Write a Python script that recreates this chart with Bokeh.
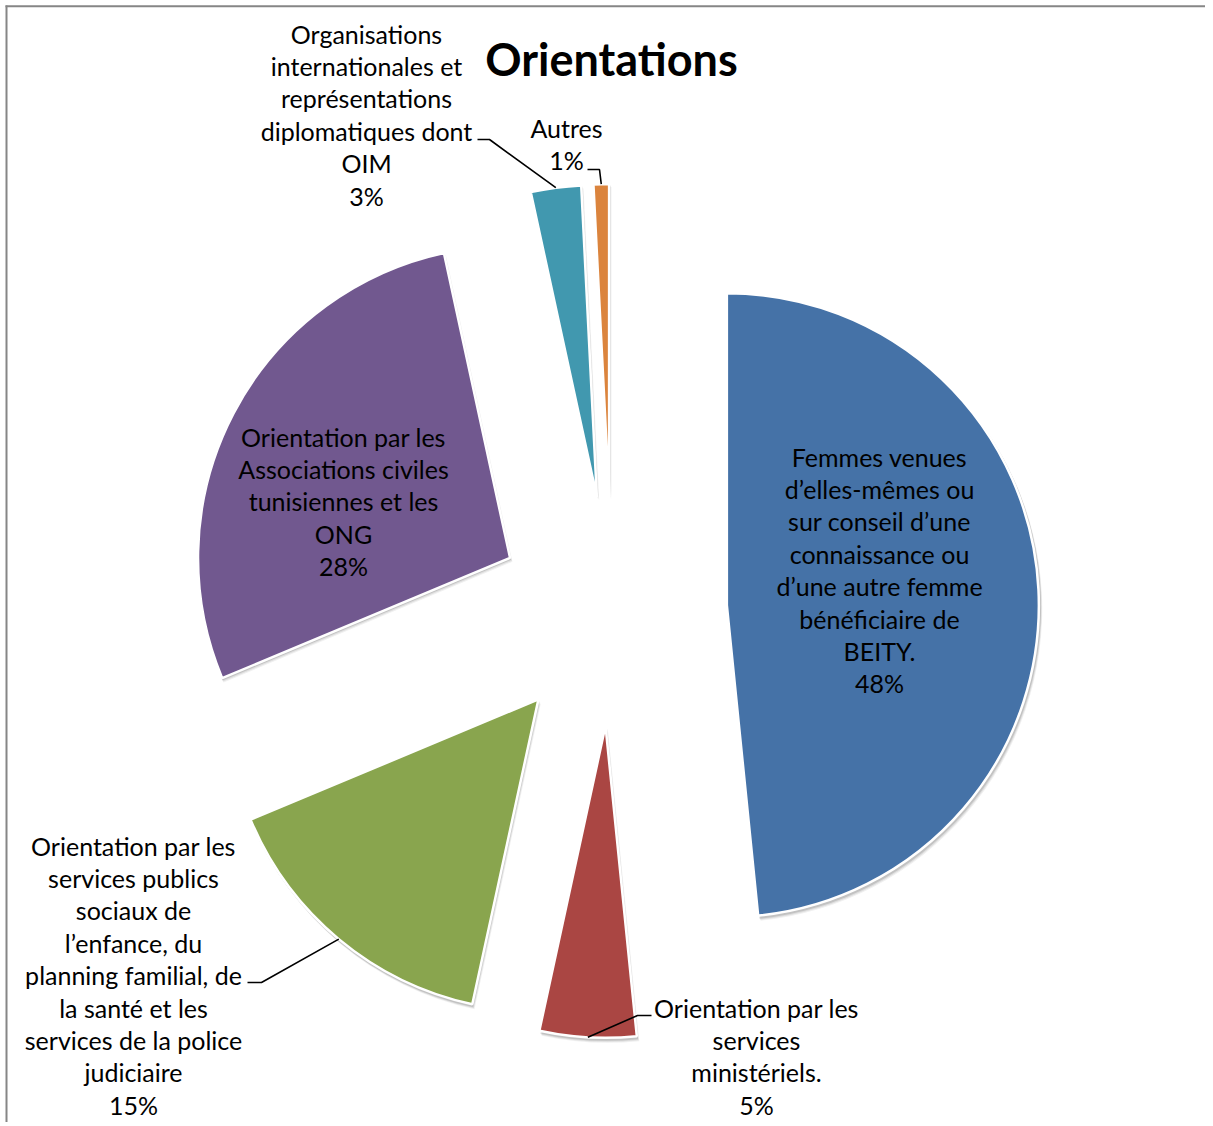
import math
from bokeh.plotting import figure
from bokeh.models import Range1d
from bokeh.core.properties import value
from bokeh.embed import file_html
from bokeh.resources import INLINE

# ---------------- data ----------------
title_text = "Orientations"
categories = [
    "Femmes venues\nd’elles-mêmes ou\nsur conseil d’une\nconnaissance ou\nd’une autre femme\nbénéficiaire de\nBEITY.",
    "Orientation par les\nservices\nministériels.",
    "Orientation par les\nservices publics\nsociaux de\nl’enfance, du\nplanning familial, de\nla santé et les\nservices de la police\njudiciaire",
    "Orientation par les\nAssociations civiles\ntunisiennes et les\nONG",
    "Organisations\ninternationales et\nreprésentations\ndiplomatiques dont\nOIM",
    "Autres",
]
shares = [48.4, 5.0, 15.3, 27.9, 2.6, 0.8]
colors = ["#4572A7", "#AA4643", "#89A54E", "#71588F", "#4198AF", "#DB843D"]

# ---------------- layout / style ----------------
W, H = 1205, 1122
OX, OY = 1, 2            # observed on-screen origin of the canvas
FONT = "Lato"
LABEL_SIZE = 25
LINE = 32.4
PIE_C = (612.5, 612.5)   # screen px
RADIUS = 312
EXPLODE = 115
# label anchor: (center x, first line center y) in screen px
label_anchor = [(880, 458), (757, 1009), (134, 847), (344, 438), (367, 35), (567, 129)]
# leader line start/elbow points (screen px); None = label inside slice
leader_pts = [None, [(652, 1017), (638, 1017)], [(248, 984), (262, 984)], None,
              [(478, 141), (490, 141)], [(588, 171), (600, 171)]]


def X(sx):
    return sx - OX


def Y(sy):
    return H - (sy - OY)


p = figure(width=W, height=H, output_backend="svg", toolbar_location=None,
           x_range=Range1d(0, W), y_range=Range1d(0, H),
           x_axis_type=None, y_axis_type=None, min_border=0)
p.grid.visible = False
p.outline_line_color = None
p.background_fill_color = "white"
p.border_fill_color = "white"

# frame border (top & left visible in the reference)
p.line(x=[X(6), X(1230)], y=[Y(7.8), Y(7.8)], line_width=2, line_color="#868686")
p.line(x=[X(7), X(7)], y=[Y(7), Y(1140)], line_width=2, line_color="#868686")

total = sum(shares)
cum = 0.0
cx0, cy0 = X(PIE_C[0]), Y(PIE_C[1])
sx_list, sy_list, st_list, en_list = [], [], [], []
arc_mid = []
for v in shares:
    t1 = cum / total * 360.0
    t2 = (cum + v) / total * 360.0
    tm = math.radians((t1 + t2) / 2)
    cum += v
    cx = cx0 + EXPLODE * math.sin(tm)
    cy = cy0 + EXPLODE * math.cos(tm)
    sx_list.append(cx)
    sy_list.append(cy)
    st_list.append(math.radians(90 - t1))
    en_list.append(math.radians(90 - t2))
    arc_mid.append((cx + RADIUS * math.sin(tm), cy + RADIUS * math.cos(tm)))

# soft shadows
for off, alpha in [(4, 0.06), (3, 0.08), (2, 0.12)]:
    p.wedge(x=[x + off * 0.6 for x in sx_list], y=[y - off for y in sy_list],
            radius=RADIUS + 1, start_angle=st_list, end_angle=en_list,
            direction="clock", fill_color="#000000", fill_alpha=alpha, line_color=None)

p.wedge(x=sx_list, y=sy_list, radius=RADIUS, start_angle=st_list, end_angle=en_list,
        direction="clock", fill_color=colors, line_color="white", line_width=2.5)

# leader lines
for pts, end in zip(leader_pts, arc_mid):
    if pts is None:
        continue
    xs = [X(a) for a, b in pts] + [end[0]]
    ys = [Y(b) for a, b in pts] + [end[1]]
    p.line(x=xs, y=ys, line_color="black", line_width=1.6)

# labels
tx, ty, tt = [], [], []
for cat, v, (ax, ay) in zip(categories, shares, label_anchor):
    lines = cat.split("\n") + ["%d%%" % round(v)]
    for i, ln in enumerate(lines):
        tx.append(X(ax))
        ty.append(Y(ay + i * LINE))
        tt.append(ln)
p.text(x=tx, y=ty, text=tt, text_font=value(FONT), text_font_size="%dpx" % LABEL_SIZE,
       text_align="center", text_baseline="middle", text_color="black")

p.text(x=[X(612)], y=[Y(60)], text=[title_text], text_font=value(FONT),
       text_font_size="45px", text_font_style="bold", text_align="center",
       text_baseline="middle", text_color="black")

open("out.html", "w").write(file_html(p, INLINE))
